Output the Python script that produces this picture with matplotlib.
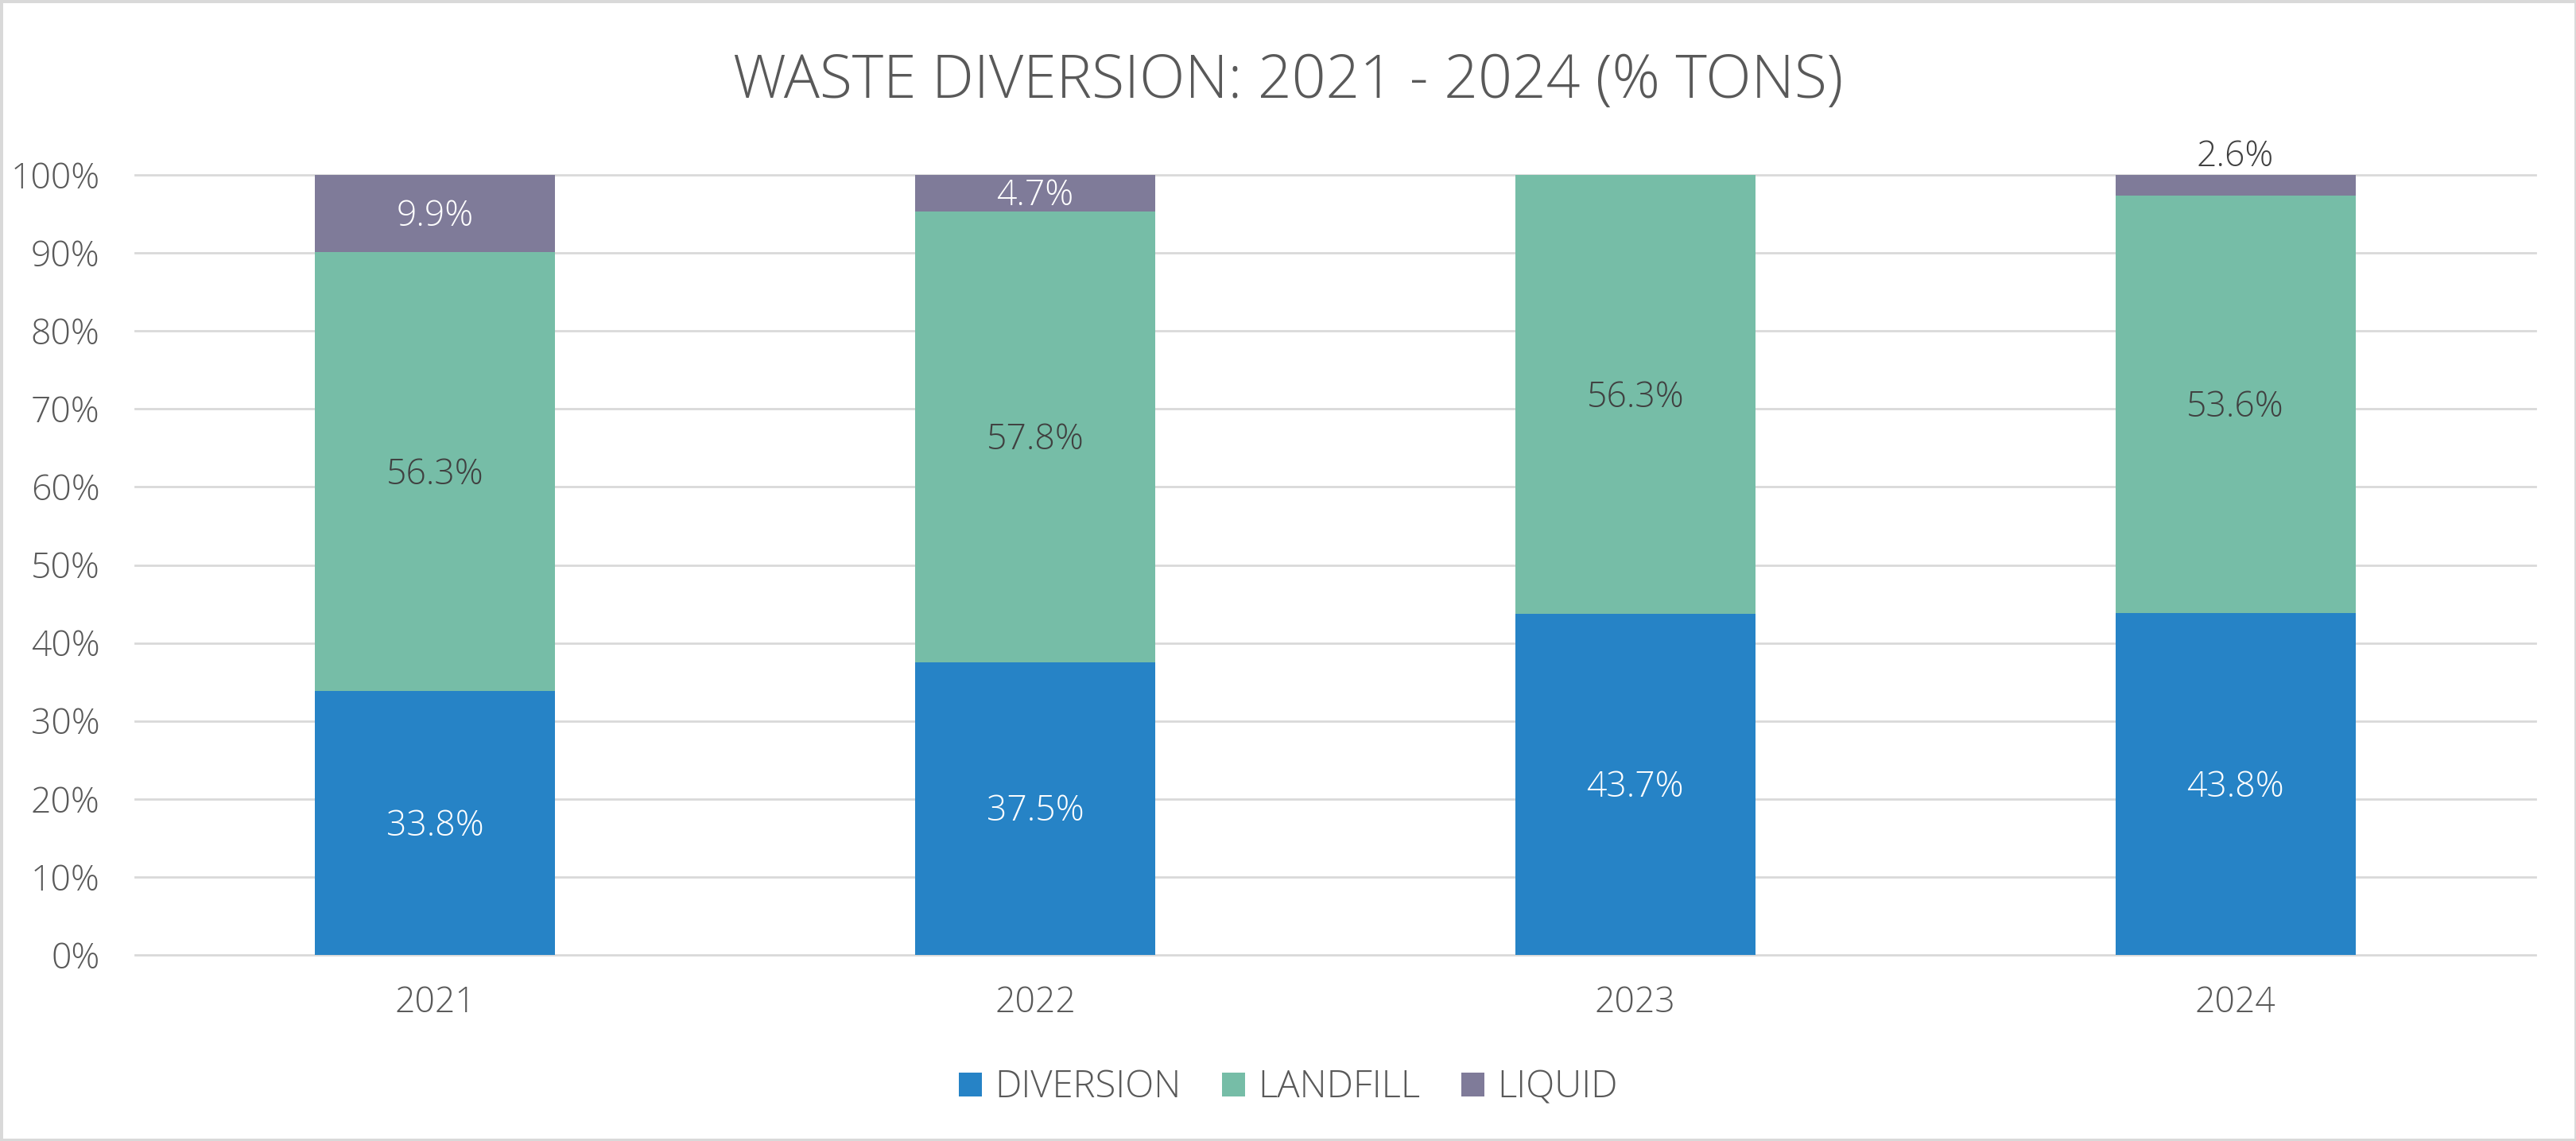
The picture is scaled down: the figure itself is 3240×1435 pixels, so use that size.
import matplotlib
matplotlib.use("Agg")
import matplotlib.pyplot as plt
from matplotlib.patches import Patch, Rectangle

years = ["2021", "2022", "2023", "2024"]
diversion = [33.8, 37.5, 43.7, 43.8]
landfill = [56.3, 57.8, 56.3, 53.6]
liquid = [9.9, 4.7, 0.0, 2.6]
series_names = ["DIVERSION", "LANDFILL", "LIQUID"]
y_ticks = [0, 10, 20, 30, 40, 50, 60, 70, 80, 90, 100]

c_div = "#2683C6"
c_land = "#76BDA7"
c_liq = "#7F7B99"
grey_txt = "#595959"
dark_txt = "#404040"

plt.rcParams['font.family'] = ['Open Sans', 'DejaVu Sans']

fig = plt.figure(figsize=(3241 / 200, 1435 / 200), dpi=200)
fig.patches.append(Rectangle((0, 0), 1, 1, transform=fig.transFigure,
                             fill=False, edgecolor="#D9D9D9", linewidth=2.5))
ax = fig.add_axes([170 / 3241, 1 - 1201 / 1435, (3189 - 170) / 3241, (1201 - 220) / 1435])

x = range(len(years))
w = 0.4
bottom2 = [a + b for a, b in zip(diversion, landfill)]
ax.bar(x, diversion, width=w, color=c_div, zorder=3)
ax.bar(x, landfill, width=w, bottom=diversion, color=c_land, zorder=3)
ax.bar(x, liquid, width=w, bottom=bottom2, color=c_liq, zorder=3)

fs_lab = 16
dy = -1.5  # labels sit a touch low in the original
for i in x:
    ax.annotate(f"{diversion[i]:.1f}%", (i, diversion[i] / 2), xytext=(0, dy),
                textcoords="offset points", ha="center", va="center",
                color="white", fontsize=fs_lab, fontweight="light", zorder=4)
    ax.annotate(f"{landfill[i]:.1f}%", (i, diversion[i] + landfill[i] / 2), xytext=(0, dy),
                textcoords="offset points", ha="center", va="center",
                color=dark_txt, fontsize=fs_lab, fontweight="light", zorder=4)
    if liquid[i] > 4:
        ax.annotate(f"{liquid[i]:.1f}%", (i, bottom2[i] + liquid[i] / 2), xytext=(0, dy),
                    textcoords="offset points", ha="center", va="center",
                    color="white", fontsize=fs_lab, fontweight="light", zorder=4)
    elif liquid[i] > 0:
        # too small to fit, put it over the bar
        ax.text(i, bottom2[i] + liquid[i], f"{liquid[i]:.1f}%", ha="center", va="bottom",
                color=dark_txt, fontsize=fs_lab, fontweight="light", zorder=4)

ax.set_xlim(-0.5, len(years) - 0.5)
ax.set_ylim(0, 100)
ax.set_yticks(y_ticks)
ax.set_yticklabels([f"{v}%" for v in y_ticks])
ax.set_xticks(list(x))
ax.set_xticklabels(years)
ax.tick_params(axis="both", length=0, labelsize=16, labelcolor=grey_txt)
ax.tick_params(axis="y", pad=16)
ax.tick_params(axis="x", pad=14)
for lab in ax.get_xticklabels() + ax.get_yticklabels():
    lab.set_fontweight("light")
ax.grid(axis="y", color="#D9D9D9", linewidth=1.0, zorder=0)
for s in ax.spines.values():
    s.set_visible(False)
for gl in ax.get_ygridlines():
    gl.set_clip_on(False)

fig.text(0.5, 1 - 103 / 1435, "WASTE DIVERSION: 2021 - 2024 (% TONS)", ha="center", va="center",
         fontsize=27, color=grey_txt, fontweight="light")

handles = [Patch(facecolor=c) for c in (c_div, c_land, c_liq)]
fig.legend(handles, series_names, loc="center", bbox_to_anchor=(0.5, 1 - 1368 / 1435), ncol=3,
           frameon=False, handlelength=0.6, handleheight=0.6,
           handletextpad=0.35, columnspacing=1.1, labelcolor=grey_txt,
           prop={"weight": "light", "size": 17})

fig.savefig("out.png", dpi=200)
